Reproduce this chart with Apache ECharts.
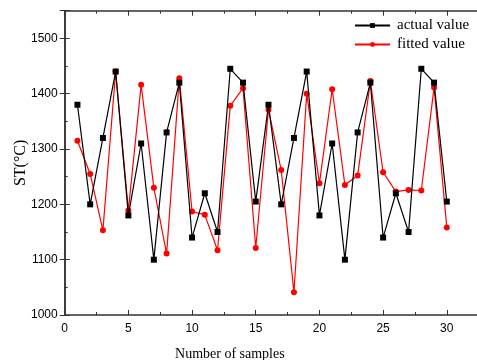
<!DOCTYPE html>
<html><head><meta charset="utf-8">
<script src="https://cdn.jsdelivr.net/npm/echarts@6/dist/echarts.min.js"></script>
<style>html,body{margin:0;padding:0;background:#fff}#c{width:477px;height:360px}</style>
</head><body><div id="c"></div>
<script>
const samples = [1,2,3,4,5,6,7,8,9,10,11,12,13,14,15,16,17,18,19,20,21,22,23,24,25,26,27,28,29,30];
const actualValues = [1380,1200,1320,1440,1180,1310,1100,1330,1420,1140,1220,1150,1445,1420,1205,1380,1200,1320,1440,1180,1310,1100,1330,1420,1140,1220,1150,1445,1420,1205];
const fittedValues = [1315,1255,1153,1440,1189,1416,1230,1111,1428,1187,1181,1117,1378,1410,1121,1371,1262,1041,1400,1238,1408,1235,1252,1423,1258,1223,1226,1225,1411,1158];
const seriesNames = ['actual value','fitted value'];

const chart = echarts.init(document.getElementById('c'), null, {renderer:'canvas'});
const axisLine = {show:true, lineStyle:{color:'#333', width:1.5}};
const serif = '"Liberation Serif","Times New Roman",serif';
const sans = '"Liberation Sans",Arial,sans-serif';
function pairs(vals){ return samples.map((s,i)=>[s, vals[i]]); }
chart.setOption({
  animation:false,
  backgroundColor:'#fff',
  grid:{left:64.7, top:10.7, right:-8, bottom:45, containLabel:false, outerBoundsMode:'none'},
  legend:{
    left:349, top:13, orient:'vertical', itemGap:4,
    itemWidth:35, itemHeight:6,
    textStyle:{fontFamily:serif, fontSize:15, color:'#000', padding:[0,0,0,2]},
    data:seriesNames
  },
  xAxis:[{
    type:'value', min:0, max:33, interval:5,
    axisLine:axisLine,
    axisTick:{show:true, inside:true, length:5, lineStyle:{color:'#333'}},
    minorTick:{show:true, splitNumber:2, length:3, lineStyle:{color:'#333'}},
    splitLine:{show:false},
    axisLabel:{fontFamily:sans, fontSize:12, color:'#000', margin:8, showMaxLabel:false},
    name:'Number of samples', nameLocation:'middle', nameGap:32, nameMoveOverlap:false,
    nameTextStyle:{fontFamily:serif, fontSize:14, color:'#000', padding:[0,90,0,0]}
  },{
    type:'value', position:'top', min:0, max:33, interval:5,
    axisLine:axisLine,
    axisTick:{show:true, inside:true, length:5, lineStyle:{color:'#333'}},
    minorTick:{show:true, splitNumber:2, length:3, lineStyle:{color:'#333'}},
    splitLine:{show:false}, axisLabel:{show:false}
  }],
  yAxis:[{
    type:'value', min:1000, max:1550, interval:100,
    axisLine:axisLine,
    axisTick:{show:true, inside:true, length:5, lineStyle:{color:'#333'}},
    minorTick:{show:true, splitNumber:2, length:3, lineStyle:{color:'#333'}},
    splitLine:{show:false},
    axisLabel:{fontFamily:sans, fontSize:12, color:'#000', margin:7, showMaxLabel:false,
      formatter:function(v){return String(v);}},
    name:'ST(°C)', nameLocation:'middle', nameGap:36, nameRotate:90, nameMoveOverlap:false,
    nameTextStyle:{fontFamily:serif, fontSize:16, color:'#000'}
  },{
    type:'value', position:'right', min:1000, max:1550, interval:100,
    axisLine:axisLine,
    axisTick:{show:true, inside:true, length:5, lineStyle:{color:'#333'}},
    splitLine:{show:false}, axisLabel:{show:false}
  }],
  series:[{
    name:seriesNames[0], type:'line', data:pairs(actualValues),
    symbol:'rect', symbolSize:6, showAllSymbol:true,
    lineStyle:{color:'#000', width:1.2}, itemStyle:{color:'#000'}, z:3
  },{
    name:seriesNames[1], type:'line', data:pairs(fittedValues),
    symbol:'circle', symbolSize:6, showAllSymbol:true,
    lineStyle:{color:'#ff0000', width:1.2}, itemStyle:{color:'#ff0000'}, z:2
  }]
});
</script></body></html>
